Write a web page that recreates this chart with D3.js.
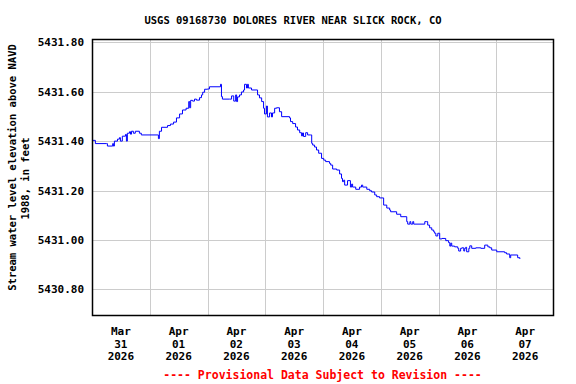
<!DOCTYPE html>
<html>
<head>
<meta charset="utf-8">
<script src="https://cdn.jsdelivr.net/npm/d3@7"></script>
<style>
  body { margin: 0; background: #fff; }
  text { font-family: "DejaVu Sans Mono", monospace; font-weight: bold; }
</style>
</head>
<body>
<div id="chart"></div>
<script>
// hours after 2026-03-31 00:00, elevation in feet
const hours = [0, 1.4, 6.0, 6.4, 8.6, 8.9, 9.3, 10.6, 11.4, 11.8, 12.6, 13.9, 14.3, 14.7, 15.6, 16.0, 16.4,
  17.2, 18.0, 19.7, 20.5, 27.4, 27.6, 28.0, 28.9, 31.4, 32.6, 33.9, 35.1, 36.4, 37.6, 39.1, 40.2, 40.6,
  41.0, 41.8, 42.6, 43.4, 44.7, 45.5, 46.0, 46.8, 48.0, 48.8, 53.2, 53.4, 53.8, 54.2, 57.2, 58.0, 58.9,
  59.7, 60.1, 60.5, 61.3, 62.1, 63.0, 63.4, 64.2, 64.6, 65.0, 66.3, 68.8, 69.6, 70.5, 71.3, 71.7, 72.5,
  72.9, 73.8, 74.6, 75.0, 75.9, 76.7, 77.9, 78.8, 82.1, 82.5, 83.4, 84.6, 85.4, 86.3, 87.1, 87.5, 87.9,
  88.8, 89.6, 90.8, 91.3, 91.7, 92.5, 93.3, 94.2, 95.4, 96.3, 97.1, 98.7, 99.2, 100.0, 101.7, 102.9,
  103.7, 104.1, 104.6, 105.0, 106.2, 107.4, 107.9, 108.3, 109.6, 111.2, 112.0, 112.5, 114.2, 115.4,
  116.2, 117.5, 118.3, 119.5, 121.2, 122.5, 123.7, 124.1, 126.6, 128.3, 130.8, 131.2, 132.1, 132.5,
  133.3, 133.7, 138.3, 139.1, 139.5, 140.3, 141.2, 142.0, 142.4, 142.9, 143.7, 144.5, 145.4, 147.0,
  148.2, 148.7, 149.1, 149.5, 150.7, 152.0, 152.4, 153.2, 153.7, 154.5, 154.9, 155.3, 155.7, 156.6,
  157.0, 157.8, 159.5, 161.6, 163.2, 164.5, 165.3, 166.1, 168.2, 171.5, 172.3, 173.6, 174.0, 176.9,
  177.8];
const elev = [5431.403, 5431.390, 5431.390, 5431.380, 5431.390, 5431.380, 5431.400, 5431.408, 5431.414,
  5431.400, 5431.420, 5431.427, 5431.400, 5431.432, 5431.438, 5431.428, 5431.440, 5431.432, 5431.440,
  5431.432, 5431.425, 5431.425, 5431.410, 5431.440, 5431.456, 5431.463, 5431.469, 5431.477, 5431.494,
  5431.510, 5431.526, 5431.533, 5431.560, 5431.535, 5431.565, 5431.562, 5431.570, 5431.566, 5431.576,
  5431.587, 5431.598, 5431.610, 5431.611, 5431.620, 5431.620, 5431.630, 5431.580, 5431.570, 5431.570,
  5431.583, 5431.562, 5431.587, 5431.560, 5431.579, 5431.587, 5431.599, 5431.607, 5431.630, 5431.615,
  5431.630, 5431.615, 5431.607, 5431.587, 5431.575, 5431.560, 5431.533, 5431.510, 5431.542, 5431.498,
  5431.514, 5431.498, 5431.514, 5431.533, 5431.535, 5431.519, 5431.499, 5431.494, 5431.479, 5431.471,
  5431.457, 5431.445, 5431.434, 5431.421, 5431.433, 5431.419, 5431.434, 5431.425, 5431.425, 5431.391,
  5431.384, 5431.376, 5431.364, 5431.351, 5431.330, 5431.323, 5431.317, 5431.310, 5431.303, 5431.287,
  5431.283, 5431.267, 5431.249, 5431.236, 5431.242, 5431.222, 5431.240, 5431.214, 5431.226, 5431.214,
  5431.205, 5431.214, 5431.222, 5431.214, 5431.205, 5431.199, 5431.194, 5431.182, 5431.175, 5431.170,
  5431.141, 5431.129, 5431.121, 5431.114, 5431.104, 5431.094, 5431.074, 5431.064, 5431.074, 5431.064,
  5431.074, 5431.064, 5431.074, 5431.074, 5431.060, 5431.049, 5431.040, 5431.033, 5431.027, 5431.016,
  5431.027, 5431.004, 5431.006, 5430.997, 5430.989, 5430.975, 5430.987, 5430.975, 5430.972, 5430.966,
  5430.955, 5430.966, 5430.968, 5430.955, 5430.966, 5430.970, 5430.952, 5430.966, 5430.976, 5430.966,
  5430.968, 5430.966, 5430.979, 5430.972, 5430.968, 5430.959, 5430.952, 5430.948, 5430.943, 5430.928,
  5430.939, 5430.928, 5430.923, 5430.912, 5430.905];
const yTicks = [5430.8, 5431.0, 5431.2, 5431.4, 5431.6, 5431.8];
const dayLabels = [["Mar", "31", "2026"], ["Apr", "01", "2026"], ["Apr", "02", "2026"], ["Apr", "03", "2026"],
  ["Apr", "04", "2026"], ["Apr", "05", "2026"], ["Apr", "06", "2026"], ["Apr", "07", "2026"]];

const width = 576, height = 384;
const margin = { top: 39, right: 22, bottom: 68, left: 92 };
const start = new Date(2026, 2, 31);
const end = new Date(2026, 3, 8);

const data = hours.map((h, i) => ({ t: new Date(start.getTime() + h * 3600e3), v: elev[i] }));

const svg = d3.select('#chart').append('svg')
  .attr('width', width)
  .attr('height', height);

const x = d3.scaleTime().domain([start, end]).range([margin.left, width - margin.right]);
const y = d3.scaleLinear().domain([5430.692, 5431.8134]).range([height - margin.bottom, margin.top]);

// grid
const days = d3.timeDay.range(d3.timeDay.offset(start, 1), end);
svg.append('g').selectAll('line').data(days).enter().append('line')
  .attr('x1', d => Math.round(x(d)) + 0.5).attr('x2', d => Math.round(x(d)) + 0.5)
  .attr('y1', margin.top).attr('y2', height - margin.bottom)
  .attr('stroke', '#cccccc');
svg.append('g').selectAll('line').data(yTicks).enter().append('line')
  .attr('x1', margin.left).attr('x2', width - margin.right)
  .attr('y1', d => Math.round(y(d)) + 0.5).attr('y2', d => Math.round(y(d)) + 0.5)
  .attr('stroke', '#cccccc');

// data line
const line = d3.line().x(d => x(d.t)).y(d => y(d.v)).curve(d3.curveStepAfter);
svg.append('path').datum(data)
  .attr('d', line)
  .attr('fill', 'none')
  .attr('stroke', '#0000ff')
  .attr('stroke-width', 1);

// frame
svg.append('rect')
  .attr('x', margin.left + 0.5).attr('y', margin.top + 0.5)
  .attr('width', width - margin.left - margin.right - 1)
  .attr('height', height - margin.top - margin.bottom - 1)
  .attr('fill', 'none').attr('stroke', '#000').attr('stroke-width', 1.5);

// y tick labels
svg.append('g').selectAll('text').data(yTicks).enter().append('text')
  .attr('x', 84).attr('y', d => y(d) + 4)
  .attr('text-anchor', 'end')
  .attr('font-size', 11)
  .text(d => d3.format('.2f')(d));

// x tick labels at noon of each day
const noons = d3.timeDay.range(start, end).map(d => d3.timeHour.offset(d, 12));
const xl = svg.append('g').selectAll('text').data(noons).enter().append('text')
  .attr('x', d => x(d))
  .attr('text-anchor', 'middle')
  .attr('font-size', 11);
[0, 1, 2].forEach(k => {
  xl.append('tspan').attr('x', d => x(d)).attr('y', 335 + k * 12.7)
    .text((d, i) => dayLabels[i][k]);
});

// title
svg.append('text')
  .attr('x', 293).attr('y', 24)
  .attr('text-anchor', 'middle')
  .attr('font-size', 10.5)
  .text('USGS 09168730 DOLORES RIVER NEAR SLICK ROCK, CO');

// y axis label
svg.append('text')
  .attr('transform', 'translate(16,167.5) rotate(-90)')
  .attr('text-anchor', 'middle')
  .attr('font-size', 10.5)
  .text('Stream water level elevation above NAVD');
svg.append('text')
  .attr('transform', 'translate(29,178.5) rotate(-90)')
  .attr('text-anchor', 'middle')
  .attr('font-size', 10.5)
  .text('1988, in feet');

// footer
svg.append('text')
  .attr('x', 322.5).attr('y', 379)
  .attr('text-anchor', 'middle')
  .attr('font-size', 11.5)
  .attr('fill', '#ff0000')
  .text('---- Provisional Data Subject to Revision ----');
</script>
</body>
</html>
